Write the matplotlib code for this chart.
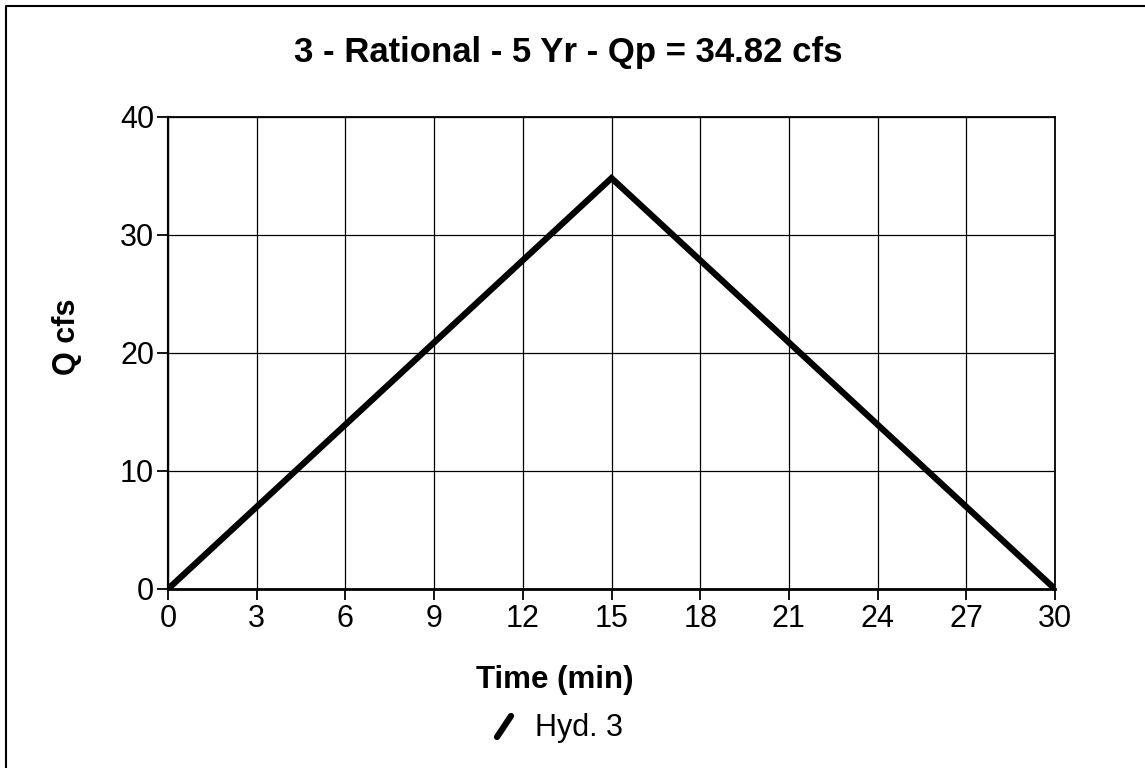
import matplotlib.pyplot as plt
from matplotlib.lines import Line2D

# hydrograph values
time_min = [0, 15, 30]
q_cfs = [0, 34.82, 0]
x_ticks = list(range(0, 31, 3))
y_ticks = [0, 10, 20, 30, 40]

title = "3 - Rational - 5 Yr - Qp = 34.82 cfs"
legend_label = "Hyd. 3"

plt.rcParams['font.family'] = ['Liberation Sans', 'DejaVu Sans']

W, H = 1145, 768
fig = plt.figure(figsize=(W / 100, H / 100), dpi=100)

# pixel helpers (origin top-left)
def fx(px):
    return px / W

def fy(py):
    return 1 - py / H

left, right, top, bottom = 168, 1055, 117, 589
ax = fig.add_axes([fx(left), fy(bottom), (right - left) / W, (bottom - top) / H])

ax.plot(time_min, q_cfs, color='black', lw=4.5, solid_joinstyle='miter', zorder=3)

ax.set_xlim(0, 30)
ax.set_ylim(0, 40)
ax.set_xticks(x_ticks)
ax.set_yticks(y_ticks)
ax.grid(True, color='black', lw=0.9)
ax.tick_params(direction='out', length=8, width=1.3, labelsize=22, pad=2)
ax.tick_params(axis='x', pad=3)
for s in ax.spines.values():
    s.set_linewidth(1.3)
ax.spines['bottom'].set_linewidth(2)
ax.spines['left'].set_linewidth(1.6)

# texts
fig.text(fx(568), fy(62), title, ha='center', va='baseline', fontsize=25, fontweight='bold')
fig.text(fx(555), fy(688), "Time (min)", ha='center', va='baseline', fontsize=22.5, fontweight='bold')
fig.text(fx(67), fy(337), "Q cfs", ha='center', va='center', rotation=90, fontsize=22, fontweight='bold')

# legend entry
fig.add_artist(Line2D([fx(497), fx(511)], [fy(737), fy(716)], color='black', lw=4.5,
                      solid_capstyle='round', transform=fig.transFigure))
fig.text(fx(535), fy(736), legend_label, ha='left', va='baseline', fontsize=22)

# page frame (top and left edges)
fig.add_artist(Line2D([fx(6), fx(6), fx(1145)], [fy(768), fy(6), fy(6)], color='black',
                      lw=1.5, transform=fig.transFigure))

fig.savefig('out.png', dpi=100)
